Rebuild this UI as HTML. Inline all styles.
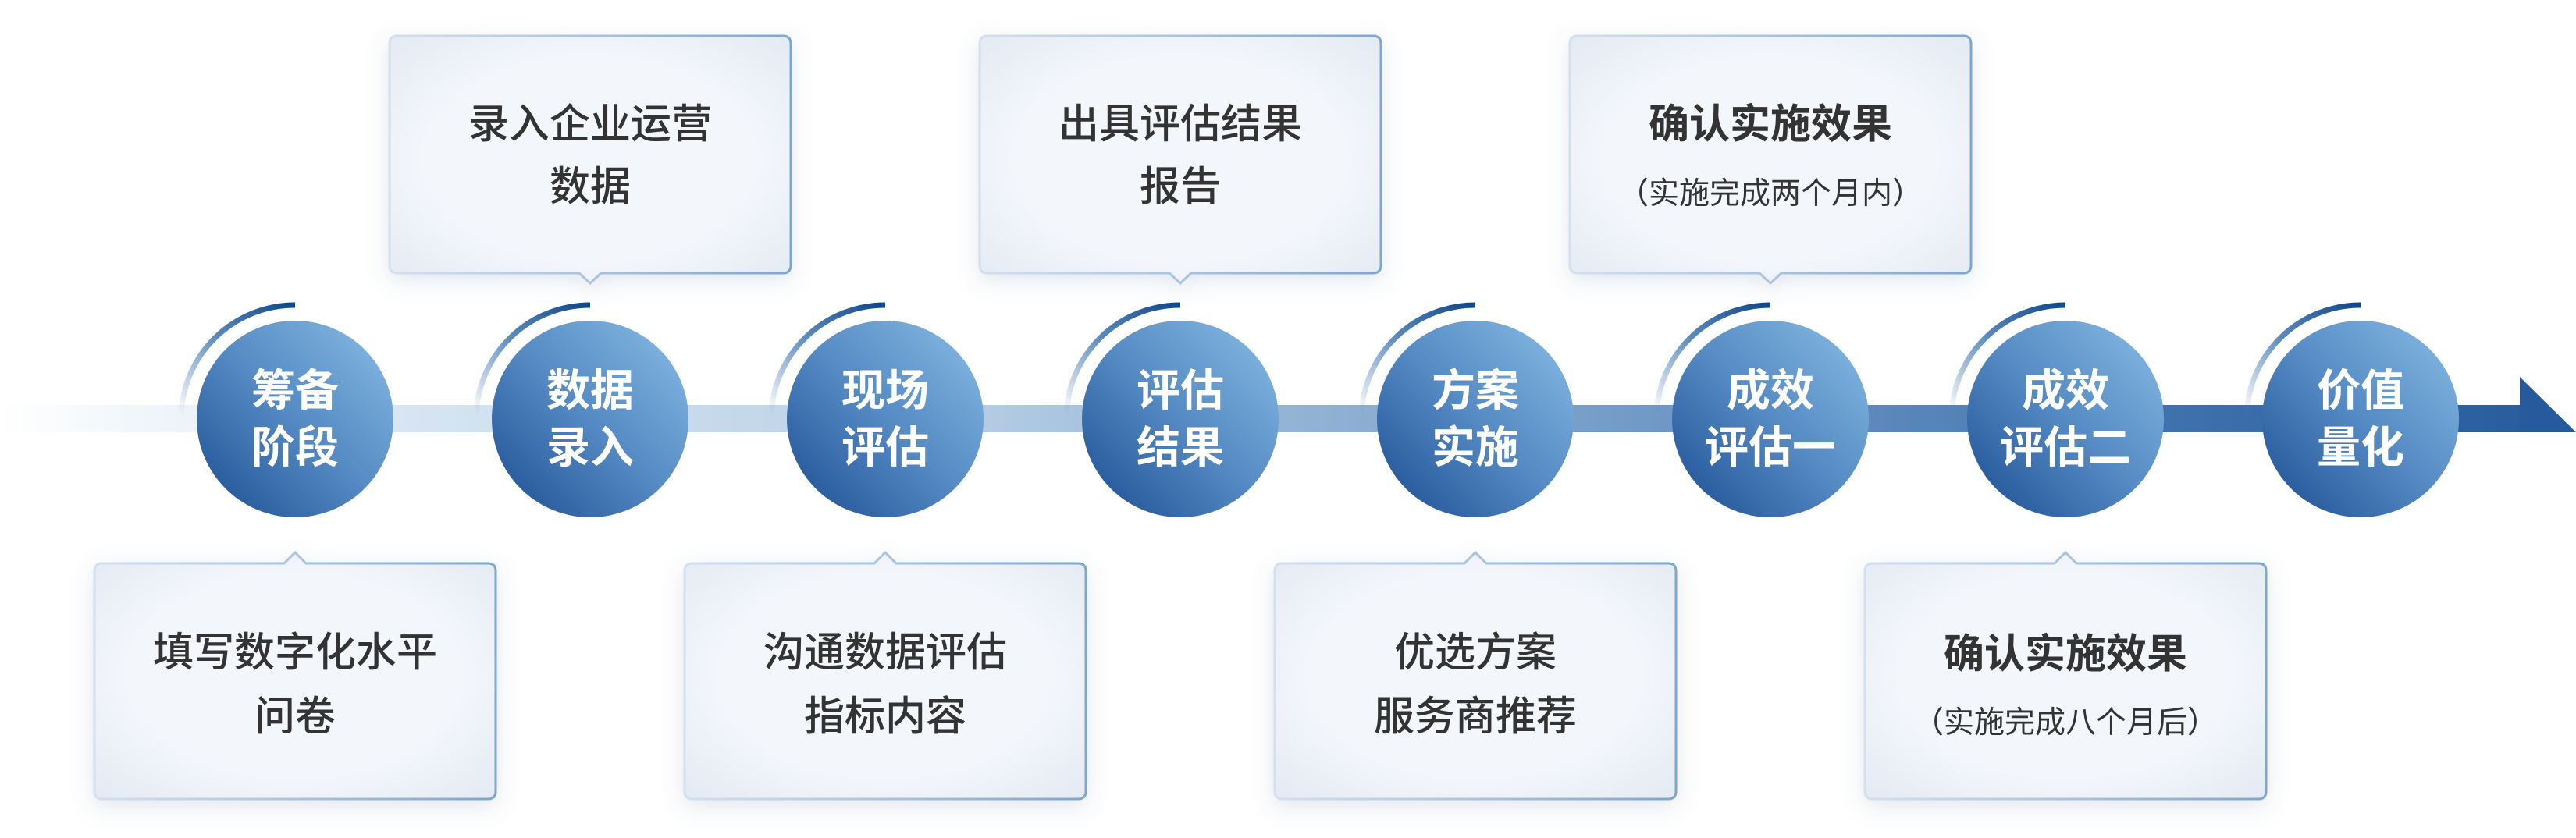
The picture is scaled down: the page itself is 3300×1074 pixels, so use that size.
<!DOCTYPE html>
<html><head><meta charset="utf-8"><style>
html,body{margin:0;padding:0;background:#fff;}
svg{display:block;}
text{font-family:"Liberation Sans","Noto Sans CJK SC",sans-serif;}
</style></head><body>
<svg width="3300" height="1074" viewBox="0 0 3300 1074" xmlns="http://www.w3.org/2000/svg">
<defs>
<linearGradient id="bar" x1="0" y1="0" x2="3300" y2="0" gradientUnits="userSpaceOnUse">
<stop offset="0" stop-color="#ffffff"/>
<stop offset="0.15" stop-color="#d8e6f2"/>
<stop offset="0.35" stop-color="#bcd2e7"/>
<stop offset="0.52" stop-color="#8fb0d2"/>
<stop offset="0.68" stop-color="#6892c2"/>
<stop offset="0.85" stop-color="#3e70ab"/>
<stop offset="1" stop-color="#265a9c"/>
</linearGradient>
<linearGradient id="circ" x1="1" y1="0" x2="0" y2="1">
<stop offset="0" stop-color="#8abde6"/>
<stop offset="0.5" stop-color="#558ac3"/>
<stop offset="1" stop-color="#1b4c91"/>
</linearGradient>
<linearGradient id="arc" x1="1" y1="0" x2="0" y2="1">
<stop offset="0" stop-color="#0f4688"/>
<stop offset="0.5" stop-color="#5d8cbf"/>
<stop offset="1" stop-color="#5d8cbf" stop-opacity="0"/>
</linearGradient>
<linearGradient id="bstroke" x1="0" y1="0" x2="1" y2="0">
<stop offset="0" stop-color="#d3e0ee"/>
<stop offset="1" stop-color="#7ea7cf"/>
</linearGradient>
<radialGradient id="bfill" cx="0.5" cy="0.5" r="0.7">
<stop offset="0.6" stop-color="#f3f6fb"/>
<stop offset="1" stop-color="#e3eaf3"/>
</radialGradient>
<filter id="sh" x="-20%" y="-20%" width="140%" height="150%">
<feDropShadow dx="0" dy="8" stdDeviation="14" flood-color="#5a7aa0" flood-opacity="0.18"/>
</filter>
<g id="boxT">
<path d="M0,10 Q0,0 10,0 H504 Q514,0 514,10 V294 Q514,304 504,304 H271 L257,317 L243,304 H10 Q0,304 0,294 Z" fill="url(#bfill)" stroke="url(#bstroke)" stroke-width="3"/>
</g>
<g id="boxB">
<path d="M0,14 Q0,4 10,4 H243 L257,-10 L271,4 H504 Q514,4 514,14 V296 Q514,306 504,306 H10 Q0,306 0,296 Z" fill="url(#bfill)" stroke="url(#bstroke)" stroke-width="3"/>
</g>
<g id="node">
<path d="M0,-146 A146,146 0 0 0 -146,-5" fill="none" stroke="url(#arc)" stroke-width="7"/>
<circle cx="0" cy="0" r="126" fill="url(#circ)"/>
</g>
</defs>

<rect x="0" y="519" width="3230" height="35" fill="url(#bar)"/>
<polygon points="3228,483 3300,554 3228,554" fill="#265a9c"/>

<g filter="url(#sh)">
<use href="#boxT" x="499" y="46"/>
<use href="#boxT" x="1255" y="46"/>
<use href="#boxT" x="2011" y="46"/>
<use href="#boxB" x="121" y="718"/>
<use href="#boxB" x="877" y="718"/>
<use href="#boxB" x="1633" y="718"/>
<use href="#boxB" x="2389" y="718"/>
</g>

<use href="#node" x="378" y="537"/>
<use href="#node" x="756" y="537"/>
<use href="#node" x="1134" y="537"/>
<use href="#node" x="1512" y="537"/>
<use href="#node" x="1890" y="537"/>
<use href="#node" x="2268" y="537"/>
<use href="#node" x="2646" y="537"/>
<use href="#node" x="3024" y="537"/>

<g fill="#fff" font-size="56" font-weight="bold" text-anchor="middle">
<text x="378" y="520">筹备</text><text x="378" y="593">阶段</text>
<text x="756" y="520">数据</text><text x="756" y="593">录入</text>
<text x="1134" y="520">现场</text><text x="1134" y="593">评估</text>
<text x="1512" y="520">评估</text><text x="1512" y="593">结果</text>
<text x="1890" y="520">方案</text><text x="1890" y="593">实施</text>
<text x="2268" y="520">成效</text><text x="2268" y="593">评估一</text>
<text x="2646" y="520">成效</text><text x="2646" y="593">评估二</text>
<text x="3024" y="520">价值</text><text x="3024" y="593">量化</text>
</g>

<g fill="#333" font-size="52" font-weight="500" text-anchor="middle">
<text x="756" y="177">录入企业运营</text><text x="756" y="257">数据</text>
<text x="1512" y="177">出具评估结果</text><text x="1512" y="257">报告</text>
<text x="2268" y="177" font-weight="bold">确认实施效果</text>
<text x="378" y="854">填写数字化水平</text><text x="378" y="936">问卷</text>
<text x="1134" y="854">沟通数据评估</text><text x="1134" y="936">指标内容</text>
<text x="1890" y="854">优选方案</text><text x="1890" y="936">服务商推荐</text>
<text x="2646" y="856" font-weight="bold">确认实施效果</text>
</g>
<g fill="#333" font-size="39" text-anchor="middle">
<text x="2268" y="261">（实施完成两个月内）</text>
<text x="2646" y="939">（实施完成八个月后）</text>
</g>
</svg>
</body></html>
